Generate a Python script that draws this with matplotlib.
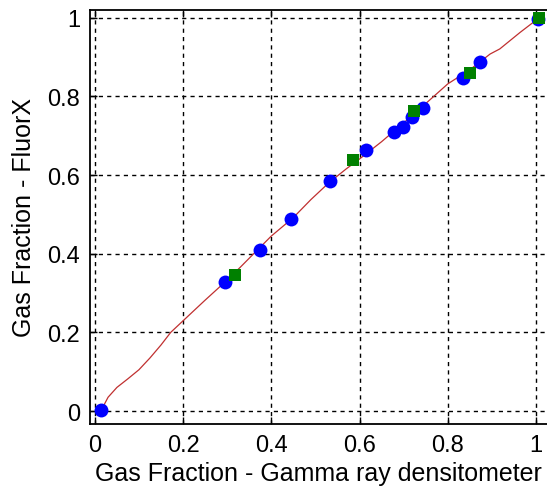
import matplotlib
matplotlib.use("Agg")
import matplotlib.pyplot as plt

plt.rcParams['font.family'] = ['Liberation Sans', 'DejaVu Sans']

# gamma densitometer vs FluorX gas fraction
gamma_blue = [0.015, 0.296, 0.375, 0.445, 0.532, 0.614, 0.678, 0.698,
              0.718, 0.745, 0.835, 0.874, 1.005]
fluorx_blue = [0.003, 0.329, 0.410, 0.488, 0.584, 0.665, 0.709, 0.723,
               0.747, 0.772, 0.847, 0.887, 0.997]

gamma_green = [0.317, 0.586, 0.724, 0.850, 1.007]
fluorx_green = [0.346, 0.639, 0.763, 0.859, 1.000]

# fitted calibration curve
fit_x = [0.015, 0.030, 0.050, 0.075, 0.100, 0.125, 0.150, 0.172, 0.210,
         0.250, 0.297, 0.330, 0.360, 0.400, 0.450, 0.490, 0.530, 0.570,
         0.600, 0.650, 0.720, 0.760, 0.800, 0.850, 0.896, 0.918, 0.964,
         1.007]
fit_y = [0.003, 0.035, 0.060, 0.082, 0.105, 0.135, 0.168, 0.200, 0.240,
         0.282, 0.330, 0.366, 0.400, 0.445, 0.492, 0.538, 0.580, 0.616,
         0.641, 0.685, 0.752, 0.792, 0.832, 0.868, 0.908, 0.921, 0.963,
         1.000]

ticks = [0, 0.2, 0.4, 0.6, 0.8, 1]
tick_labels = ['0', '0.2', '0.4', '0.6', '0.8', '1']

fig = plt.figure(figsize=(5.47, 4.89), dpi=100)
ax = fig.add_axes([0.1645, 0.1309, 0.8355, 0.8466])

ax.plot(fit_x, fit_y, color='#c03030', linewidth=0.9, zorder=2)
ax.plot(gamma_blue, fluorx_blue, 'o', color='#0000ff', markersize=10,
        markeredgewidth=0, zorder=3)
ax.plot(gamma_green, fluorx_green, 's', color='#008000', markersize=9,
        markeredgewidth=0, zorder=4)

ax.set_xlim(-0.011, 1.025)
ax.set_ylim(-0.033, 1.020)
ax.set_xticks(ticks)
ax.set_xticklabels(tick_labels)
ax.set_yticks(ticks)
ax.set_yticklabels(tick_labels)

ax.grid(True, color='black', linestyle=(0, (3, 3)), linewidth=1)
ax.tick_params(direction='in', length=5, width=1, labelsize=17,
               top=True, right=False, pad=7)

for side in ['left', 'bottom', 'top']:
    ax.spines[side].set_linewidth(1.3)
ax.spines['right'].set_visible(False)

ax.set_xlabel('Gas Fraction - Gamma ray densitometer', fontsize=18, labelpad=4)
ax.set_ylabel('Gas Fraction - FluorX', fontsize=18, labelpad=8)

fig.savefig('out.png', dpi=100)
